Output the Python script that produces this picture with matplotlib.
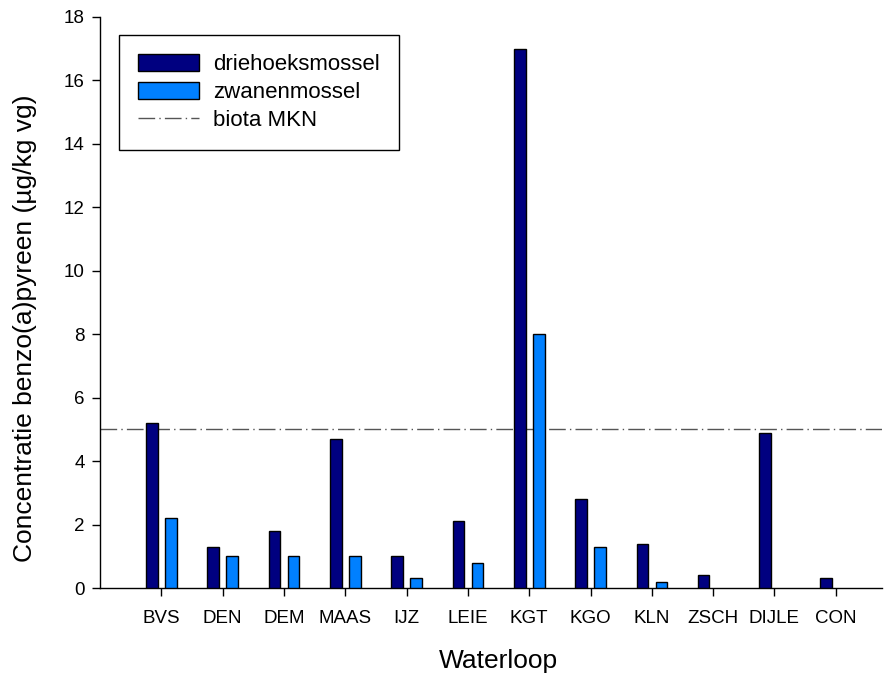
import numpy as np
import matplotlib.pyplot as plt

# ---- Data ----
waterlopen = ["BVS", "DEN", "DEM", "MAAS", "IJZ", "LEIE", "KGT", "KGO", "KLN", "ZSCH", "DIJLE", "CON"]
driehoeksmossel = [5.2, 1.3, 1.8, 4.7, 1.0, 2.1, 17.0, 2.8, 1.4, 0.4, 4.9, 0.3]
zwanenmossel = [2.2, 1.0, 1.0, 1.0, 0.3, 0.8, 8.0, 1.3, 0.2, np.nan, np.nan, np.nan]
biota_mkn = 5.0

plt.rcParams["font.family"] = ["Liberation Sans", "DejaVu Sans"]

fig = plt.figure(figsize=(8.88, 6.79), dpi=100)
ax = fig.add_axes([0.1126, 0.134, 0.8804, 0.841])

x = np.arange(1, len(waterlopen) + 1)
w = 0.19
off = 0.155

b1 = ax.bar(x - off, driehoeksmossel, width=w, color="#000080", edgecolor="black",
            linewidth=1, label="driehoeksmossel", zorder=3)
b2 = ax.bar(x + off, zwanenmossel, width=w, color="#0080ff", edgecolor="black",
            linewidth=1, label="zwanenmossel", zorder=3)
ln = ax.axhline(biota_mkn, color="#555555", linestyle=(0, (12, 3, 1, 3)),
                linewidth=1, label="biota MKN", zorder=2)

ax.set_xlim(0, 12.75)
ax.set_ylim(0, 18)
ax.set_yticks(np.arange(0, 19, 2))
ax.set_xticks(x)
ax.set_xticklabels(waterlopen)
ax.tick_params(direction="out", length=6, width=1, labelsize=13.5)
ax.tick_params(axis="x", pad=10)
ax.tick_params(axis="y", pad=5)

for side in ["top", "right"]:
    ax.spines[side].set_visible(False)
for side in ["left", "bottom"]:
    ax.spines[side].set_linewidth(1)

ax.set_xlabel("Waterloop", fontsize=19, va="top")
ax.set_ylabel("Concentratie benzo(a)pyreen (µg/kg vg)", fontsize=19, va="center")
ax.xaxis.set_label_coords(0.51, -0.107)
ax.yaxis.set_label_coords(-0.096, 0.455)

leg = ax.legend([b1, b2, ln], ["driehoeksmossel", "zwanenmossel", "biota MKN"],
                loc="upper left", bbox_to_anchor=(0.0243, 0.968), borderaxespad=0,
                fontsize=16, frameon=True, fancybox=False, edgecolor="black",
                framealpha=1, handlelength=2.75, handleheight=0.78,
                handletextpad=0.63, borderpad=0.85, labelspacing=0.31)
leg.get_frame().set_linewidth(1)

fig.savefig("out.png", dpi=100)
